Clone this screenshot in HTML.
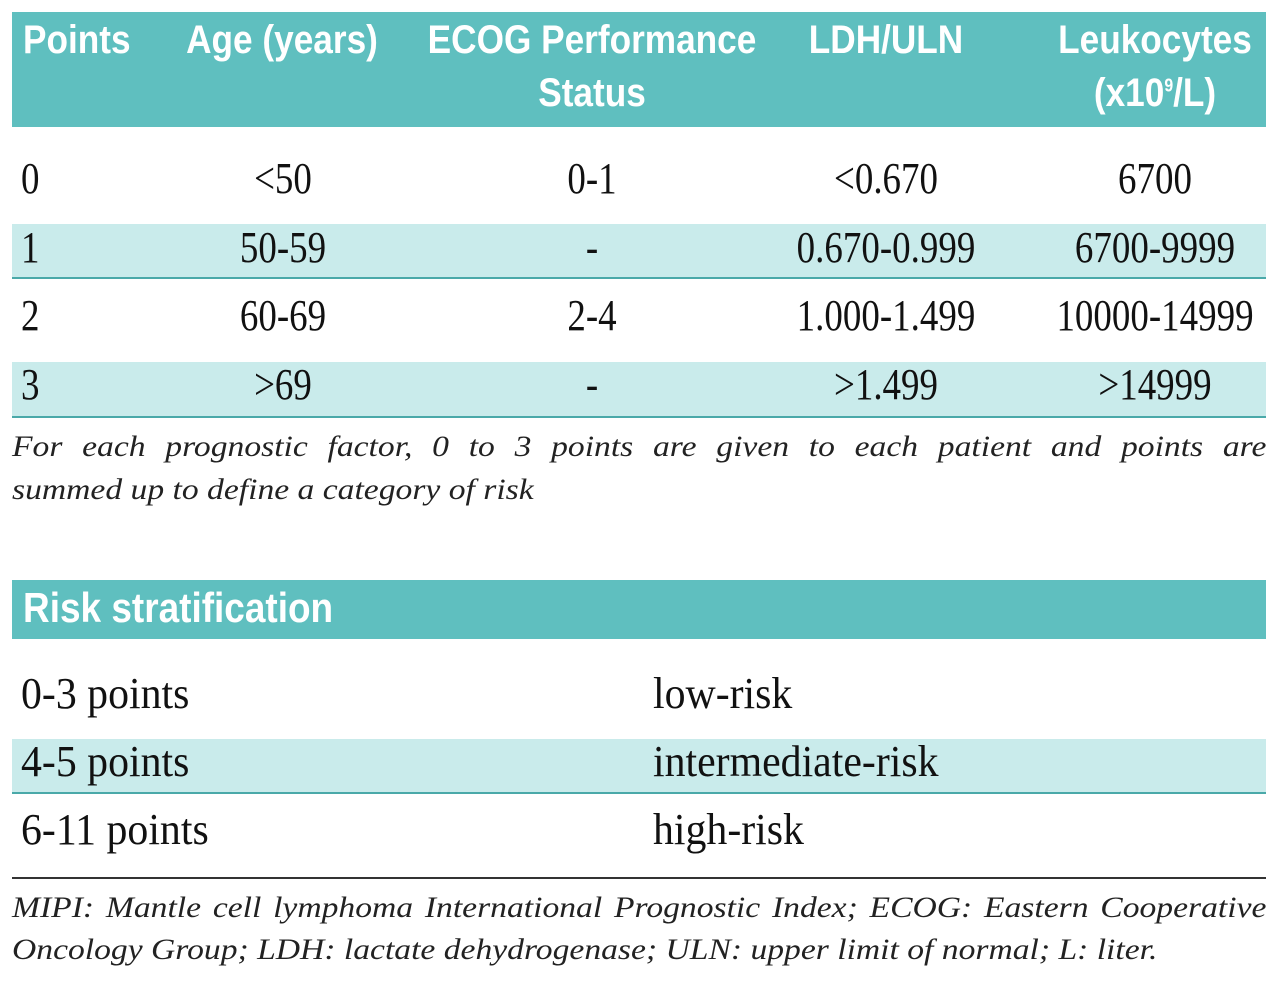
<!DOCTYPE html>
<html><head><meta charset="utf-8"><style>
body{margin:0;width:1280px;height:988px;background:#fff;position:relative;overflow:hidden}
.b{position:absolute}
.t{position:absolute;white-space:nowrap;line-height:1}
.h{font-family:"Liberation Sans",sans-serif;font-weight:bold;color:#fff;font-size:40px}
.s{font-family:"Liberation Serif",serif;color:#111;font-size:44px}
.c{transform:translate(-50%,-50%) scaleX(0.84)}
.l{transform:translate(0,-50%) scaleX(0.84);transform-origin:left center}
.h.c{transform:translate(-50%,-50%) scaleX(0.88)}
.h.l{transform:translate(0,-50%) scaleX(0.88);transform-origin:left center}
.lr{transform:translate(0,-50%) scaleX(0.95);transform-origin:left center}
.i{font-family:"Liberation Serif",serif;font-style:italic;font-size:30px;color:#222;left:12px;width:1120px;text-align:justify;text-align-last:justify;transform:translateY(-50%) scaleX(1.12);transform-origin:left center}
</style></head><body>
<div class="b" style="left:12px;top:12px;width:1254px;height:115px;background:#5fbfbf"></div>
<div class="b" style="left:12px;top:224px;width:1254px;height:54px;background:#c9ebeb"></div>
<div class="b" style="left:12px;top:277px;width:1254px;height:2px;background:#4aa9a9"></div>
<div class="b" style="left:12px;top:362px;width:1254px;height:54px;background:#c9ebeb"></div>
<div class="b" style="left:12px;top:416px;width:1254px;height:2px;background:#4aa9a9"></div>
<div class="b" style="left:12px;top:580px;width:1254px;height:59px;background:#5fbfbf"></div>
<div class="b" style="left:12px;top:739px;width:1254px;height:54px;background:#c9ebeb"></div>
<div class="b" style="left:12px;top:792px;width:1254px;height:2px;background:#4aa9a9"></div>
<div class="b" style="left:12px;top:877px;width:1254px;height:2px;background:#333"></div>

<div class="t h l" style="left:23px;top:40px">Points</div>
<div class="t h c" style="left:282px;top:40px">Age (years)</div>
<div class="t h c" style="left:592px;top:40px">ECOG Performance</div>
<div class="t h c" style="left:592px;top:93px">Status</div>
<div class="t h c" style="left:886px;top:40px">LDH/ULN</div>
<div class="t h c" style="left:1155px;top:40px">Leukocytes</div>
<div class="t h c" style="left:1155px;top:93px">(x10<sup style="font-size:18px">9</sup>/L)</div>

<div class="t s l" style="left:21px;top:179px">0</div>
<div class="t s c" style="left:283px;top:179px">&lt;50</div>
<div class="t s c" style="left:592px;top:179px">0-1</div>
<div class="t s c" style="left:886px;top:179px">&lt;0.670</div>
<div class="t s c" style="left:1155px;top:179px">6700</div>

<div class="t s l" style="left:21px;top:248px">1</div>
<div class="t s c" style="left:283px;top:248px">50-59</div>
<div class="t s c" style="left:592px;top:248px">-</div>
<div class="t s c" style="left:886px;top:248px">0.670-0.999</div>
<div class="t s c" style="left:1155px;top:248px">6700-9999</div>

<div class="t s l" style="left:21px;top:316px">2</div>
<div class="t s c" style="left:283px;top:316px">60-69</div>
<div class="t s c" style="left:592px;top:316px">2-4</div>
<div class="t s c" style="left:886px;top:316px">1.000-1.499</div>
<div class="t s c" style="left:1155px;top:316px">10000-14999</div>

<div class="t s l" style="left:21px;top:385px">3</div>
<div class="t s c" style="left:283px;top:385px">&gt;69</div>
<div class="t s c" style="left:592px;top:385px">-</div>
<div class="t s c" style="left:886px;top:385px">&gt;1.499</div>
<div class="t s c" style="left:1155px;top:385px">&gt;14999</div>

<div class="t i" style="top:447px">For each prognostic factor, 0 to 3 points are given to each patient and points are</div>
<div class="t i" style="top:490px;text-align-last:left">summed up to define a category of risk</div>

<div class="t h l" style="left:23px;top:608px;font-size:42px">Risk stratification</div>

<div class="t s lr" style="left:21px;top:694px">0-3 points</div>
<div class="t s lr" style="left:653px;top:694px">low-risk</div>
<div class="t s lr" style="left:21px;top:762px">4-5 points</div>
<div class="t s lr" style="left:653px;top:762px">intermediate-risk</div>
<div class="t s lr" style="left:21px;top:830px">6-11 points</div>
<div class="t s lr" style="left:653px;top:830px">high-risk</div>

<div class="t i" style="top:908px">MIPI: Mantle cell lymphoma International Prognostic Index; ECOG: Eastern Cooperative</div>
<div class="t i" style="top:950px;text-align-last:left">Oncology Group; LDH: lactate dehydrogenase; ULN: upper limit of normal; L: liter.</div>
</body></html>
